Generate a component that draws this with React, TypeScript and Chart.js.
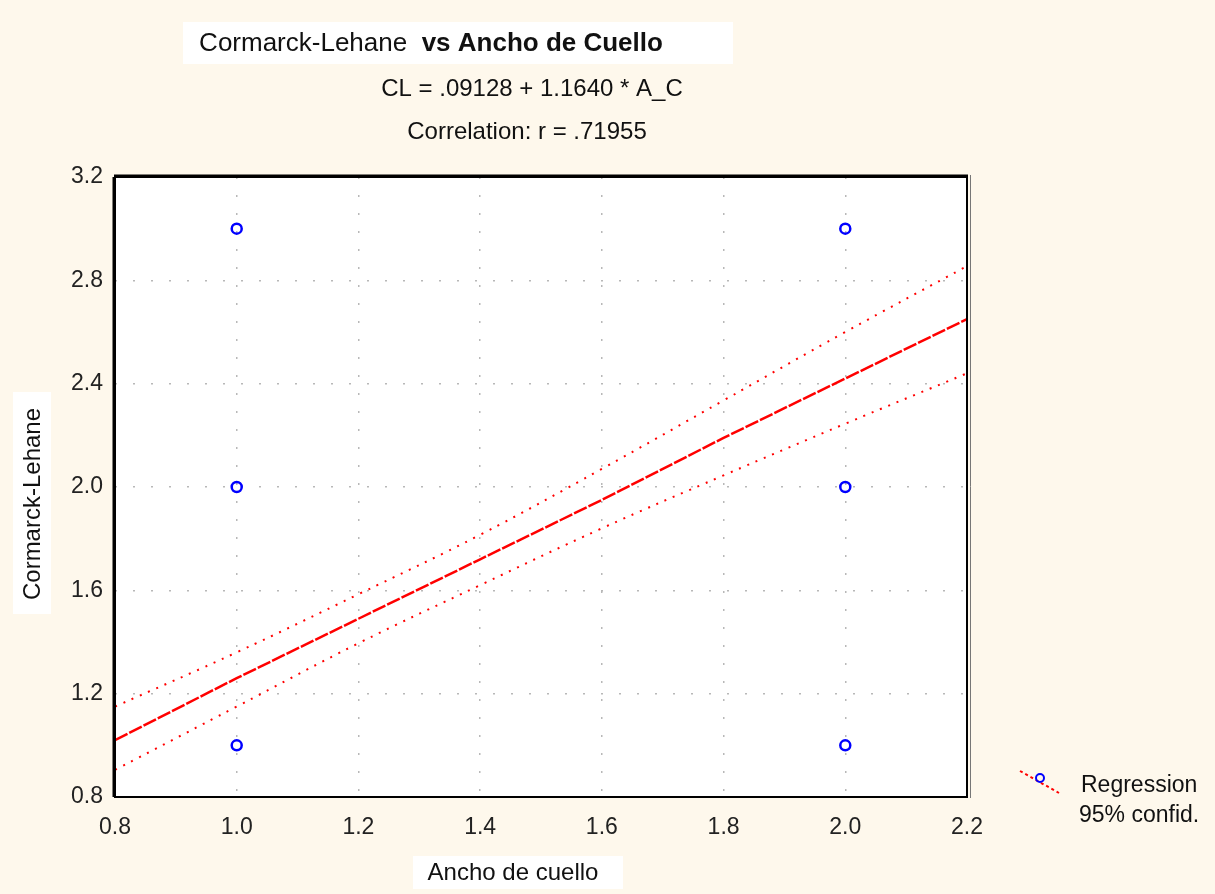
import React, { useEffect, useRef } from "react";
import { Chart, registerables } from "chart.js";

Chart.register(...registerables);

// Observed points (Ancho de cuello, Cormarck-Lehane)
const pointX = [1, 1, 1, 2, 2, 2];
const pointY = [1, 2, 3, 1, 2, 3];

// Regression line and 95% confidence band
const fitX = [0.8, 1.0, 1.2, 1.4, 1.6, 1.8, 2.0, 2.2];
const fitY = [1.02, 1.26, 1.49, 1.72, 1.95, 2.19, 2.42, 2.65];
const upperY = [1.15, 1.36, 1.585, 1.815, 2.07, 2.335, 2.6, 2.855];
const lowerY = [0.905, 1.15, 1.395, 1.62, 1.84, 2.045, 2.245, 2.44];

const xTicks = [0.8, 1.0, 1.2, 1.4, 1.6, 1.8, 2.0, 2.2];
const yTicks = [0.8, 1.2, 1.6, 2.0, 2.4, 2.8, 3.2];

const titleLeft = "Cormarck-Lehane ";
const titleRight = " vs Ancho de Cuello";
const equation = "CL = .09128 + 1.1640 * A_C";
const correlation = "Correlation: r = .71955";
const xTitle = "Ancho de cuello";
const yTitle = "Cormarck-Lehane";
const legendLines = ["Regression", "95% confid."];

const FONT = "'Liberation Sans', Arial, sans-serif";
const BG = "#fef8ec";

const decor = {
  id: "decor",
  beforeDraw(chart: any) {
    const { ctx, chartArea: a, width, height } = chart;
    ctx.save();
    ctx.fillStyle = BG;
    ctx.fillRect(0, 0, width, height);
    ctx.fillStyle = "#ffffff";
    ctx.fillRect(a.left, a.top, a.right - a.left, a.bottom - a.top);
    // white label boxes
    ctx.fillRect(183, 22, 550, 42);
    ctx.fillRect(13, 392, 38, 222);
    ctx.fillRect(413, 856, 210, 33);
    ctx.restore();
  },
  afterDraw(chart: any) {
    const { ctx, chartArea: a } = chart;
    ctx.save();
    // frame
    ctx.strokeStyle = "#000";
    ctx.lineWidth = 2;
    ctx.strokeRect(a.left, a.top, a.right - a.left, a.bottom - a.top);
    ctx.lineWidth = 3;
    ctx.beginPath();
    ctx.moveTo(a.left - 1, a.top - 1);
    ctx.lineTo(a.right + 1, a.top - 1);
    ctx.stroke();
    ctx.beginPath();
    ctx.moveTo(a.left - 1, a.top);
    ctx.lineTo(a.left - 1, a.bottom);
    ctx.stroke();
    ctx.strokeStyle = "#777";
    ctx.lineWidth = 1;
    ctx.beginPath();
    ctx.moveTo(a.right + 3.5, a.top - 2);
    ctx.lineTo(a.right + 3.5, a.bottom + 1);
    ctx.stroke();

    ctx.fillStyle = "#111";
    ctx.textBaseline = "middle";
    // title
    ctx.font = `26px ${FONT}`;
    const w1 = ctx.measureText(titleLeft).width;
    ctx.font = `bold 26px ${FONT}`;
    const w2 = ctx.measureText(titleRight).width;
    const tx = 431 - (w1 + w2) / 2;
    ctx.textAlign = "left";
    ctx.font = `26px ${FONT}`;
    ctx.fillText(titleLeft, tx, 44);
    ctx.font = `bold 26px ${FONT}`;
    ctx.fillText(titleRight, tx + w1, 44);
    // subtitle lines
    ctx.textAlign = "center";
    ctx.font = `24px ${FONT}`;
    ctx.fillText(equation, 532, 89);
    ctx.fillText(correlation, 527, 132);
    // axis titles
    ctx.fillText(xTitle, 513, 873);
    ctx.save();
    ctx.translate(33, 504);
    ctx.rotate(-Math.PI / 2);
    ctx.fillText(yTitle, 0, 0);
    ctx.restore();
    // legend
    ctx.strokeStyle = "#ff0000";
    ctx.lineWidth = 2;
    ctx.setLineDash([3, 3]);
    ctx.beginPath();
    ctx.moveTo(1020, 771);
    ctx.lineTo(1059, 793);
    ctx.stroke();
    ctx.setLineDash([]);
    ctx.strokeStyle = "#0000ff";
    ctx.beginPath();
    ctx.arc(1040, 778, 4, 0, Math.PI * 2);
    ctx.stroke();
    ctx.textAlign = "left";
    ctx.font = `23px ${FONT}`;
    ctx.fillText(legendLines[0], 1081, 786);
    ctx.fillText(legendLines[1], 1079, 816);
    ctx.restore();
  },
};

export default function App() {
  const ref = useRef<HTMLCanvasElement | null>(null);
  useEffect(() => {
    if (!ref.current) return;
    const xy = (xs: number[], ys: number[]) => xs.map((x, i) => ({ x, y: ys[i] }));
    const chart = new Chart(ref.current, {
      type: "scatter",
      data: {
        datasets: [
          {
            label: "upper",
            data: xy(fitX, upperY),
            showLine: true,
            borderColor: "#ff0000",
            borderWidth: 2,
            borderDash: [2, 7],
            pointRadius: 0,
            tension: 0.4,
          },
          {
            label: "lower",
            data: xy(fitX, lowerY),
            showLine: true,
            borderColor: "#ff0000",
            borderWidth: 2,
            borderDash: [2, 7],
            pointRadius: 0,
            tension: 0.4,
          },
          {
            label: "Regression",
            data: xy(fitX, fitY),
            showLine: true,
            borderColor: "#ff0000",
            borderWidth: 2.5,
            borderDash: [14, 2],
            pointRadius: 0,
          },
          {
            label: "Data",
            data: xy(pointX, pointY),
            showLine: false,
            borderColor: "#0000ff",
            backgroundColor: "rgba(0,0,0,0)",
            borderWidth: 2.5,
            pointRadius: 5,
          },
        ],
      },
      options: {
        responsive: false,
        animation: false,
        layout: { padding: { left: 0, right: 248, top: 177, bottom: 37 } },
        plugins: {
          legend: { display: false },
          title: { display: false },
          tooltip: { enabled: false },
        },
        scales: {
          x: {
            type: "linear",
            min: 0.8,
            max: 2.2,
            afterBuildTicks: (s: any) => {
              s.ticks = xTicks.map((v) => ({ value: v }));
            },
            afterFit: (s: any) => {
              s.height = 60;
            },
            ticks: {
              color: "#222",
              font: { size: 23, family: FONT },
              padding: 17,
              callback: (v: any) => Number(v).toFixed(1),
            },
            grid: { color: "#b8b8b8", lineWidth: 1.5, drawTicks: false },
            border: { display: false, dash: [2, 16] },
          },
          y: {
            type: "linear",
            min: 0.8,
            max: 3.2,
            afterBuildTicks: (s: any) => {
              s.ticks = yTicks.map((v) => ({ value: v }));
            },
            afterFit: (s: any) => {
              s.width = 115;
            },
            ticks: {
              color: "#222",
              font: { size: 23, family: FONT },
              padding: 12,
              callback: (v: any) => Number(v).toFixed(1),
            },
            grid: { color: "#b8b8b8", lineWidth: 1.5, drawTicks: false },
            border: { display: false, dash: [2, 16] },
          },
        },
      },
      plugins: [decor],
    });
    return () => chart.destroy();
  }, []);
  return (
    <div style={{ position: "absolute", left: 0, top: 0, width: 1215, height: 894, background: BG }}>
      <canvas ref={ref} width={1215} height={894} />
    </div>
  );
}
